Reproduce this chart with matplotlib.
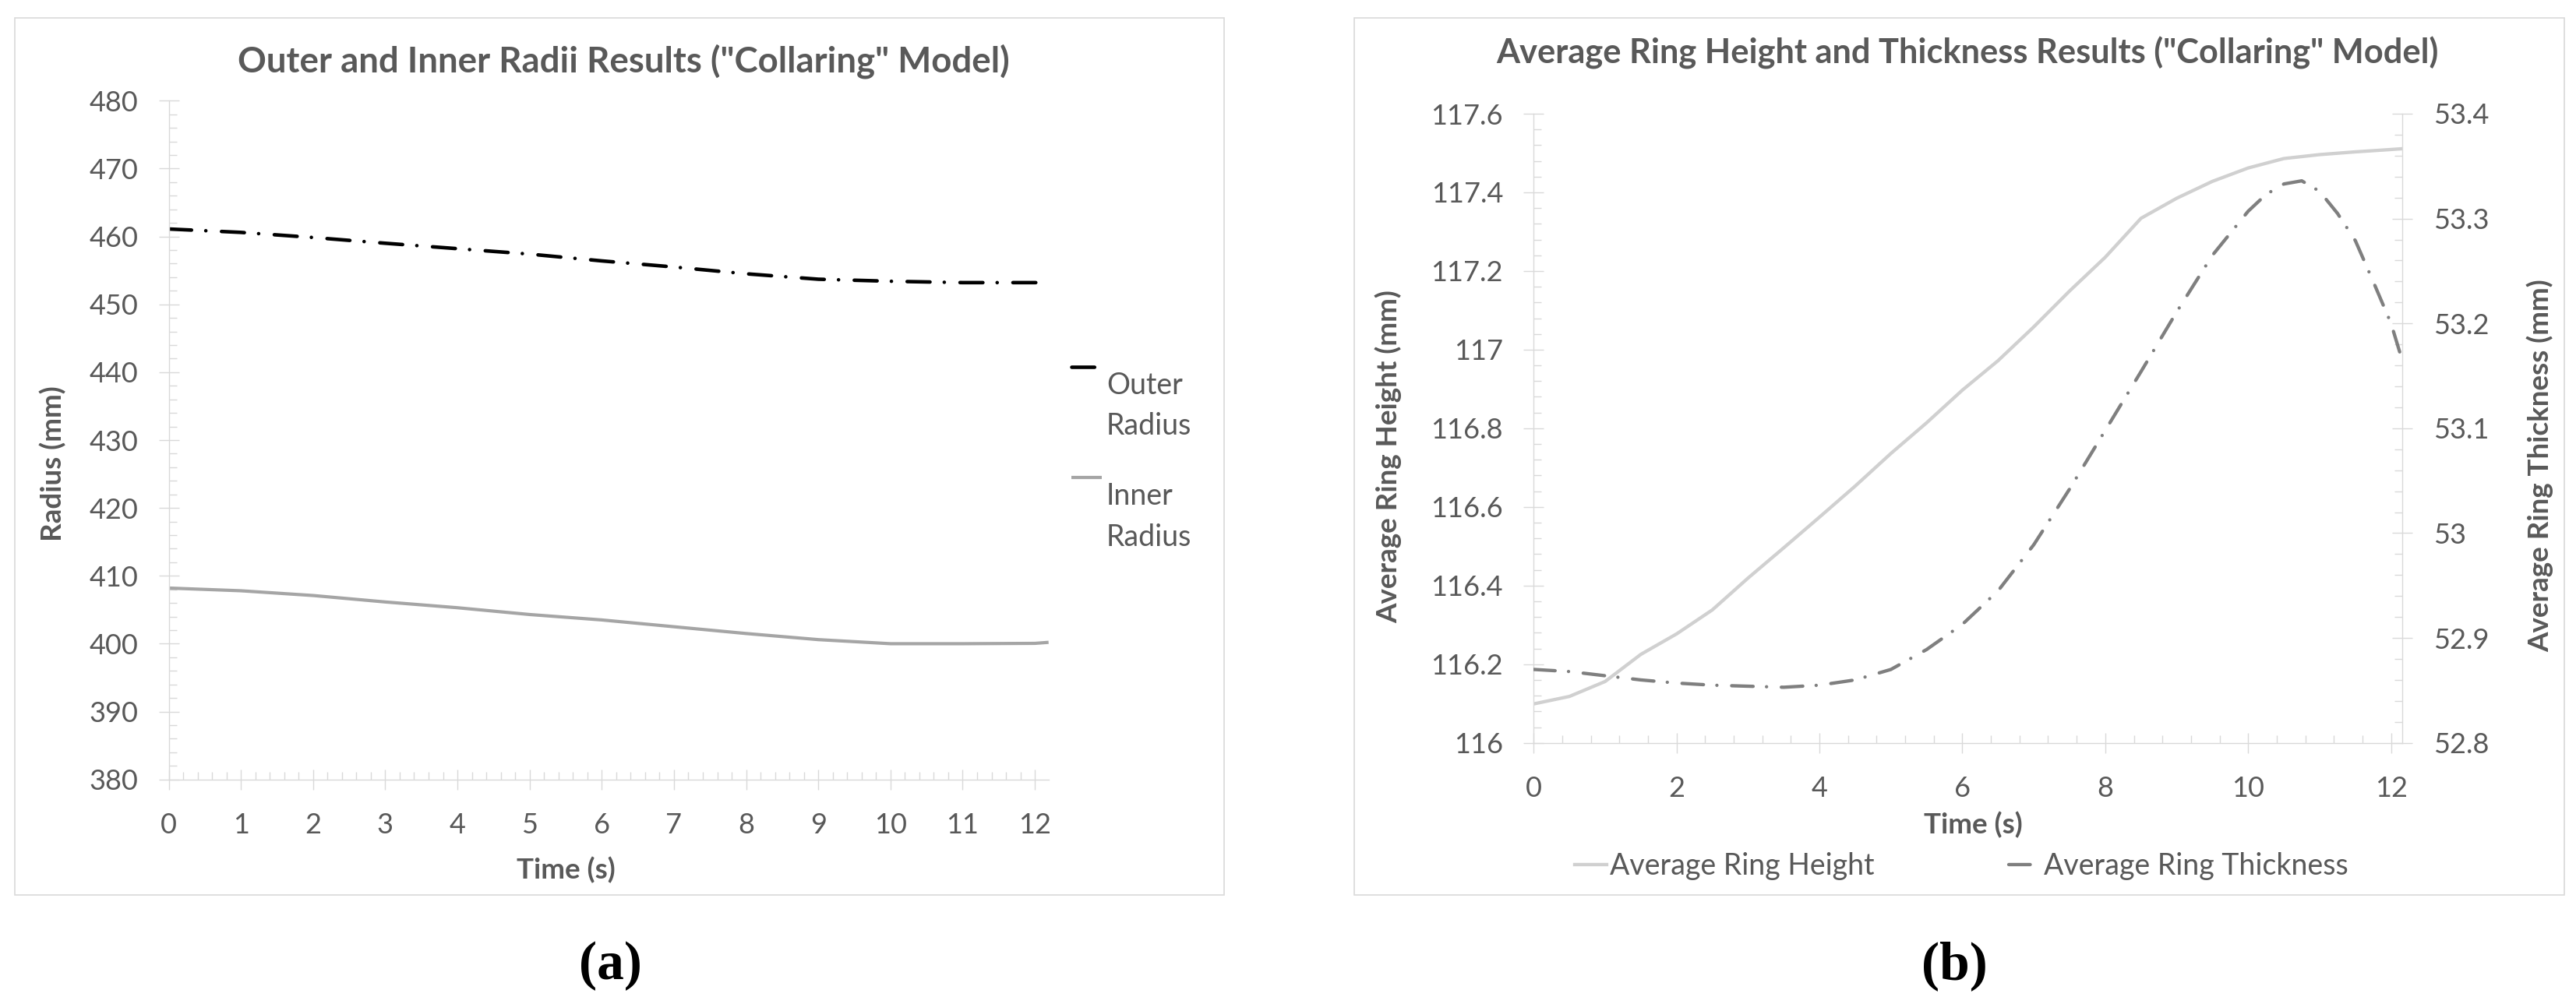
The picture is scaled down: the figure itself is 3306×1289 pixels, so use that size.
"""
Two Excel-style line charts for the "Collaring" model:
(a) outer / inner radius and (b) average ring height / thickness vs time.
"""

import numpy as np
import matplotlib

matplotlib.use("Agg", force=True)
import matplotlib.pyplot as plt  # noqa: E402
from matplotlib.patches import Rectangle  # noqa: E402
from matplotlib.ticker import MultipleLocator, FuncFormatter  # noqa: E402
from matplotlib.legend_handler import HandlerLine2D  # noqa: E402

# ---------------------------------------------------------------------------
# Data
# ---------------------------------------------------------------------------

time_a = [0, 1, 2, 3, 4, 5, 6, 7, 8, 9, 10, 11, 12, 12.19]
outer_radius = [461.1, 460.6, 459.85, 459.0, 458.2, 457.4, 456.4,
                455.5, 454.5, 453.7, 453.4, 453.2, 453.2, 453.2]
inner_radius = [408.2, 407.8, 407.1, 406.15, 405.3, 404.3, 403.5,
                402.5, 401.5, 400.6, 400.0, 400.0, 400.05, 400.2]

time_height = [0, 0.5, 1, 1.5, 2, 2.5, 3, 3.5, 4, 4.5, 5, 5.5, 6, 6.5,
               7, 7.5, 8, 8.5, 9, 9.5, 10, 10.5, 11, 11.5, 12, 12.16]
ring_height = [116.099, 116.118, 116.156, 116.225, 116.277, 116.338,
               116.419, 116.496, 116.574, 116.653, 116.736, 116.814,
               116.897, 116.972, 117.058, 117.149, 117.235, 117.334,
               117.385, 117.428, 117.462, 117.486, 117.496, 117.503,
               117.509, 117.511]

time_thick = [0, 0.5, 1, 1.5, 2, 2.5, 3, 3.5, 4, 4.5, 5, 5.5, 6, 6.5,
              7, 7.5, 8, 8.5, 9, 9.5, 10, 10.25, 10.5, 10.75, 11, 11.25,
              11.5, 11.75, 12, 12.16]
ring_thickness = [52.870, 52.868, 52.864, 52.860, 52.857, 52.855, 52.854,
                  52.853, 52.855, 52.860, 52.870, 52.889, 52.913, 52.945,
                  52.989, 53.042, 53.098, 53.154, 53.211, 53.265, 53.307,
                  53.323, 53.333, 53.336, 53.326, 53.305, 53.279, 53.240,
                  53.200, 53.164]

title_a = 'Outer and Inner Radii Results ("Collaring" Model)'
title_b = 'Average Ring Height and Thickness Results ("Collaring" Model)'

# ---------------------------------------------------------------------------
# Figure setup
# ---------------------------------------------------------------------------

W, H = 3306, 1289
DPI = 100
plt.rcParams["font.family"] = ["Lato", "DejaVu Sans"]

AXIS_GRAY = "#d9d9d9"
TEXT_GRAY = "#595959"
TICK_SIZE = 26
LEGEND_SIZE = 27
LABEL_SIZE = 26.5
DASHDOT = (0, (6.4, 4.0, 0.01, 4.4))

fig = plt.figure(figsize=(W / DPI, H / DPI), dpi=DPI)
fig.patch.set_facecolor("white")


def px_rect(x0, x1, ytop, ybot):
    """Pixel box (top-left origin) -> figure fraction [l, b, w, h]."""
    return [x0 / W, 1 - ybot / H, (x1 - x0) / W, (ybot - ytop) / H]


def add_frame(x0, x1, ytop, ybot):
    l, b, w, h = px_rect(x0, x1, ytop, ybot)
    fig.add_artist(Rectangle((l, b), w, h, transform=fig.transFigure,
                             fill=False, ec=AXIS_GRAY, lw=1.2))


def style_axes(ax, visible):
    for name, sp in ax.spines.items():
        sp.set_visible(name in visible)
        sp.set_color(AXIS_GRAY)
        sp.set_linewidth(1.0)
    ax.tick_params(which="major", direction="inout", length=19, width=1.0,
                   color=AXIS_GRAY, labelsize=TICK_SIZE, labelcolor=TEXT_GRAY)
    ax.tick_params(which="minor", direction="in", length=7, width=1.0,
                   color=AXIS_GRAY)
    ax.tick_params(axis="y", which="major", pad=18.8)
    ax.tick_params(axis="x", which="major", pad=21.2)


def fit_width(txt, target_px):
    r = fig.canvas.get_renderer()
    w = txt.get_window_extent(r).width
    txt.set_fontsize(txt.get_fontsize() * target_px / w)


class HandlerFirstLine(HandlerLine2D):
    """Put the legend line level with the first line of a 2-line label."""

    def __init__(self, shift, **kw):
        super().__init__(**kw)
        self.shift = shift

    def create_artists(self, legend, orig_handle, xdescent, ydescent,
                       width, height, fontsize, trans):
        artists = super().create_artists(legend, orig_handle, xdescent,
                                         ydescent, width, height, fontsize,
                                         trans)
        for a in artists:
            a.set_ydata(np.asarray(a.get_ydata()) + self.shift)
        return artists


fmt_g = FuncFormatter(lambda v, p: f"{v:g}")

# ---------------------------------------------------------------------------
# (a) Outer and inner radii
# ---------------------------------------------------------------------------

add_frame(18.6, 1570.5, 23, 1149)
ax_a = fig.add_axes(px_rect(216.5, 1345.7, 129.3, 1000.7))
style_axes(ax_a, ("left", "bottom"))

line_out, = ax_a.plot(time_a, outer_radius, color="black", lw=3.3,
                      ls=DASHDOT, dash_capstyle="round",
                      label="Outer\nRadius")
line_in, = ax_a.plot(time_a, inner_radius, color="#a5a5a5", lw=3.0,
                     solid_capstyle="butt", label="Inner\nRadius")

ax_a.set_xlim(0, 12.19)
ax_a.set_ylim(380, 480)
ax_a.xaxis.set_major_locator(MultipleLocator(1))
ax_a.xaxis.set_minor_locator(MultipleLocator(0.2))
ax_a.yaxis.set_major_locator(MultipleLocator(10))
ax_a.yaxis.set_minor_locator(MultipleLocator(2))
ax_a.xaxis.set_major_formatter(fmt_g)
ax_a.yaxis.set_major_formatter(fmt_g)

ax_a.set_xlabel("Time (s)", fontsize=LABEL_SIZE, fontweight="bold",
                color=TEXT_GRAY, va="center")
ax_a.xaxis.set_label_coords(0.4518, -0.1331)
ax_a.set_ylabel("Radius (mm)", fontsize=LABEL_SIZE, fontweight="bold",
                color=TEXT_GRAY, va="center")
ax_a.yaxis.set_label_coords(-0.1315, 0.4656)

t_a = ax_a.text(0.5167, 1.0583, title_a, transform=ax_a.transAxes,
                ha="center", va="center", fontsize=27, fontweight="bold",
                color=TEXT_GRAY)
fit_width(t_a, 989)

leg_a = ax_a.legend(handles=[line_out, line_in], loc="upper left",
                    bbox_to_anchor=(1.0259, 0.6015), frameon=False,
                    fontsize=LEGEND_SIZE, labelcolor=TEXT_GRAY,
                    handlelength=1.05, handletextpad=0.15, borderpad=0,
                    borderaxespad=0, labelspacing=1.45,
                    handler_map={line_out: HandlerFirstLine(37.2),
                                 line_in: HandlerFirstLine(37.2)})
for t in leg_a.get_texts():
    t.set_linespacing(1.57)

# ---------------------------------------------------------------------------
# (b) Average ring height and thickness (twin y axes)
# ---------------------------------------------------------------------------

add_frame(1738, 3290.7, 23, 1149)
ax_b = fig.add_axes(px_rect(1968.3, 3083.3, 146, 953.7))
style_axes(ax_b, ("left", "bottom"))
ax_t = ax_b.twinx()
style_axes(ax_t, ("right",))

line_h, = ax_b.plot(time_height, ring_height, color="#d0d0d0", lw=3.1,
                    label="Average Ring Height")
line_t, = ax_t.plot(time_thick, ring_thickness, color="#7f7f7f", lw=3.1,
                    ls=DASHDOT, dash_capstyle="round",
                    label="Average Ring Thickness")

ax_b.set_xlim(0, 12.16)
ax_b.set_ylim(116, 117.6)
ax_t.set_ylim(52.8, 53.4)
ax_b.xaxis.set_major_locator(MultipleLocator(2))
ax_b.xaxis.set_minor_locator(MultipleLocator(0.4))
ax_b.yaxis.set_major_locator(MultipleLocator(0.2))
ax_b.yaxis.set_minor_locator(MultipleLocator(0.04))
ax_t.yaxis.set_major_locator(MultipleLocator(0.1))
ax_t.yaxis.set_minor_locator(MultipleLocator(0.02))
for axis in (ax_b.xaxis, ax_b.yaxis, ax_t.yaxis):
    axis.set_major_formatter(fmt_g)

ax_b.set_xlabel("Time (s)", fontsize=LABEL_SIZE, fontweight="bold",
                color=TEXT_GRAY, va="center")
ax_b.xaxis.set_label_coords(0.5056, -0.1304)
ax_b.set_ylabel("Average Ring Height (mm)", fontsize=LABEL_SIZE,
                fontweight="bold", color=TEXT_GRAY, va="center")
ax_b.yaxis.set_label_coords(-0.1671, 0.4552)
ax_t.set_ylabel("Average Ring Thickness (mm)", fontsize=LABEL_SIZE,
                fontweight="bold", color=TEXT_GRAY, va="center",
                rotation=90)
ax_t.yaxis.set_label_coords(1.1585, 0.4405)

t_b = ax_b.text(0.4993, 1.0961, title_b, transform=ax_b.transAxes,
                ha="center", va="center", fontsize=27, fontweight="bold",
                color=TEXT_GRAY)
fit_width(t_b, 1208)

ax_t.legend(handles=[line_h, line_t], loc="center",
            bbox_to_anchor=(0.492, -0.196), ncol=2, frameon=False,
            fontsize=LEGEND_SIZE, labelcolor=TEXT_GRAY, handlelength=1.1,
            handletextpad=0.1, columnspacing=4.6, borderpad=0,
            borderaxespad=0)

# ---------------------------------------------------------------------------
# Panel letters
# ---------------------------------------------------------------------------

for x_px, letter in ((783, "(a)"), (2508, "(b)")):
    fig.text(x_px / W, 1 - 1240 / H, letter, ha="center", va="center",
             family=["Liberation Serif", "DejaVu Serif"], fontweight="bold",
             fontsize=50, color="black")

fig.savefig("out.png", dpi=DPI, facecolor="white")
